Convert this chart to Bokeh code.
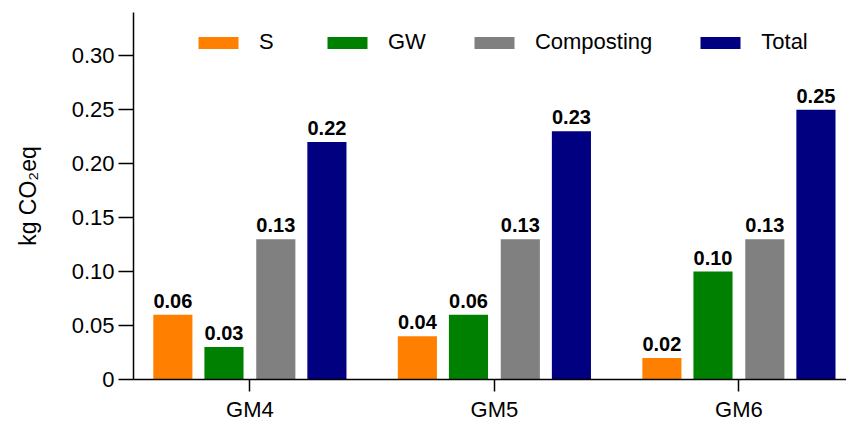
from bokeh.plotting import figure
from bokeh.models import ColumnDataSource, Range1d, FixedTicker, Legend, LegendItem
from bokeh.transform import dodge
from bokeh.core.properties import value
from bokeh.embed import file_html
from bokeh.resources import INLINE

categories = ["GM4", "GM5", "GM6"]
S = [0.06, 0.04, 0.02]
GW = [0.03, 0.06, 0.10]
Composting = [0.13, 0.13, 0.13]
Total = [0.22, 0.23, 0.25]
y_ticks = [0, 0.05, 0.10, 0.15, 0.20, 0.25, 0.30]

series = [("S", S, "#FF8000", -0.315),
          ("GW", GW, "#008000", -0.106),
          ("Composting", Composting, "#808080", 0.106),
          ("Total", Total, "#000080", 0.315)]

FONT = "Liberation Sans"
idx = list(range(len(categories)))

p = figure(frame_width=713, frame_height=367, output_backend="svg", toolbar_location=None,
           x_range=Range1d(-0.476, 2.44), y_range=Range1d(0, 0.34),
           min_border_left=133, min_border_right=0, min_border_top=12, min_border_bottom=42)
p.xgrid.visible = False
p.ygrid.visible = False
p.outline_line_color = None
p.background_fill_color = "white"

items = []
for name, vals, color, off in series:
    src = ColumnDataSource(dict(idx=idx, v=vals, lbl=[f"{x:.2f}" for x in vals]))
    r = p.vbar(x=dodge("idx", off, range=p.x_range), top="v", width=0.16, bottom=0,
               source=src, fill_color=color, line_color=None)
    p.text(x=dodge("idx", off, range=p.x_range), y="v", text="lbl", source=src,
           text_align="center", text_baseline="bottom", y_offset=-7,
           text_font=value(FONT), text_font_style="bold", text_font_size="20px",
           text_color="black")
    items.append(LegendItem(label=name, renderers=[r]))

legend = Legend(items=items, orientation="horizontal", location=(60, 324),
                glyph_width=50, glyph_height=15, label_standoff=16, spacing=43,
                padding=0, margin=0, border_line_color=None, background_fill_alpha=0,
                label_text_font=FONT, label_text_font_size="22px", label_text_color="black")
p.add_layout(legend)

xa = p.xaxis[0]
xa.ticker = FixedTicker(ticks=idx)
xa.major_label_overrides = {i: c for i, c in zip(idx, categories)}
xa.major_tick_out = 12
xa.major_tick_in = 0
xa.minor_tick_line_color = None
xa.axis_line_width = 1.5
xa.major_tick_line_width = 1.5
xa.major_label_text_font = FONT
xa.major_label_text_font_size = "22px"
xa.major_label_text_color = "black"
xa.major_label_standoff = 5
xa.axis_line_color = "black"
xa.major_tick_line_color = "black"

ya = p.yaxis[0]
ya.ticker = FixedTicker(ticks=y_ticks)
ya.major_label_overrides = {t: ("0" if t == 0 else f"{t:.2f}") for t in y_ticks}
ya.major_tick_out = 15
ya.major_tick_in = 0
ya.minor_tick_line_color = None
ya.axis_line_width = 1.5
ya.major_tick_line_width = 1.5
ya.major_label_text_font = FONT
ya.major_label_text_font_size = "22px"
ya.major_label_text_color = "black"
ya.major_label_standoff = 4
ya.axis_line_color = "black"
ya.major_tick_line_color = "black"
ya.axis_label = "kg CO\u2082eq"
ya.axis_label_text_font = FONT
ya.axis_label_text_font_size = "23px"
ya.axis_label_text_font_style = "normal"
ya.axis_label_text_color = "black"
ya.axis_label_standoff = 28

open("out.html", "w").write(file_html(p, INLINE))
